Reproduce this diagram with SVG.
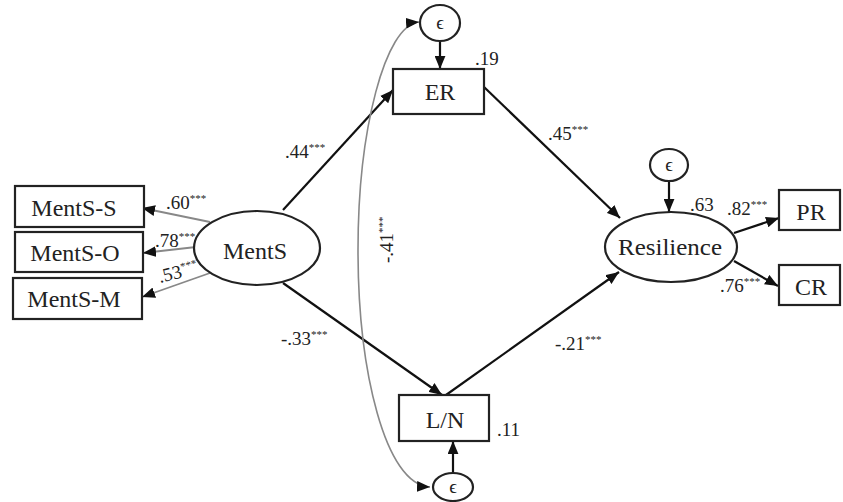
<svg xmlns="http://www.w3.org/2000/svg" width="843" height="502" viewBox="0 0 843 502">
<defs>
<style>
.box{fill:#fff;stroke:#222;stroke-width:2.2}
.ell{fill:#fff;stroke:#222;stroke-width:2.2}
text{font-family:'Liberation Serif','Times New Roman','DejaVu Serif',serif;fill:#222}
.lbl{font-size:24px;text-anchor:middle}
.co{font-size:19px}
.st{font-size:11px}
.eps{font-size:19px;text-anchor:middle}
.path{stroke:#111;stroke-width:2.2;fill:none}
.load{stroke:#888;stroke-width:1.8;fill:none}
.cov{stroke:#888;stroke-width:1.6;fill:none}
</style>
<marker id="ah" viewBox="0 0 12 10" refX="12" refY="5" markerWidth="13" markerHeight="11" markerUnits="userSpaceOnUse" orient="auto-start-reverse">
<path d="M0,0 L12,5 L0,10 Z" fill="#111"/>
</marker>
</defs>
<rect width="843" height="502" fill="#fff"/>
<g id="connectors">
<line class="load" x1="210" y1="222" x2="142" y2="208" marker-end="url(#ah)"/>
<line class="load" x1="196" y1="247" x2="143" y2="253" marker-end="url(#ah)"/>
<line class="load" x1="210" y1="273" x2="142" y2="297" marker-end="url(#ah)"/>
<line class="path" x1="283" y1="210" x2="393" y2="90" marker-end="url(#ah)"/>
<line class="path" x1="283" y1="283" x2="442" y2="395" marker-end="url(#ah)"/>
<line class="path" x1="484" y1="87" x2="620" y2="218" marker-end="url(#ah)"/>
<line class="path" x1="446" y1="395" x2="619" y2="272" marker-end="url(#ah)"/>
<line class="path" x1="440" y1="41" x2="440" y2="69" marker-end="url(#ah)"/>
<line class="path" x1="453" y1="473" x2="453" y2="441" marker-end="url(#ah)"/>
<line class="path" x1="669" y1="181" x2="669" y2="212" marker-end="url(#ah)"/>
<line class="path" x1="734" y1="233" x2="779" y2="218" marker-end="url(#ah)"/>
<line class="path" x1="734" y1="261" x2="778" y2="286" marker-end="url(#ah)"/>
<path class="cov" d="M 419 22 C 385 25, 358 130, 358 250 C 358 370, 385 485, 430 487" marker-start="url(#ah)" marker-end="url(#ah)"/>
</g>
<g id="mentsS"><rect class="box" x="15" y="186" width="129" height="41"/><text class="lbl" x="74" y="216">MentS-S</text></g>
<g id="mentsO"><rect class="box" x="15" y="232" width="128" height="40"/><text class="lbl" x="75" y="261">MentS-O</text></g>
<g id="mentsM"><rect class="box" x="13" y="278" width="129" height="41"/><text class="lbl" x="74" y="307">MentS-M</text></g>
<g id="ments"><ellipse class="ell" cx="257" cy="248" rx="63" ry="37"/><text class="lbl" x="255" y="259">MentS</text></g>
<g id="er"><rect class="box" x="393" y="69" width="91" height="45"/><text class="lbl" x="440" y="100">ER</text><text class="co" x="475" y="65">.19</text></g>
<g id="eps-er"><ellipse class="ell" cx="440" cy="23" rx="20" ry="18"/><text class="eps" x="440" y="29">ϵ</text></g>
<g id="ln"><rect class="box" x="399" y="395" width="90" height="46"/><text class="lbl" x="445" y="428">L/N</text><text class="co" x="497" y="436">.11</text></g>
<g id="eps-ln"><ellipse class="ell" cx="453" cy="487" rx="20" ry="14"/><text class="eps" x="453" y="493">ϵ</text></g>
<g id="resilience"><ellipse class="ell" cx="671" cy="247" rx="66" ry="35"/><text class="lbl" x="670" y="255" textLength="104" lengthAdjust="spacingAndGlyphs">Resilience</text><text class="co" x="690" y="211">.63</text></g>
<g id="eps-res"><ellipse class="ell" cx="669" cy="165" rx="19" ry="16"/><text class="eps" x="669" y="171">ϵ</text></g>
<g id="pr"><rect class="box" x="779" y="190" width="61" height="40"/><text class="lbl" x="811" y="220">PR</text></g>
<g id="cr"><rect class="box" x="779" y="265" width="61" height="40"/><text class="lbl" x="811" y="295">CR</text></g>
<g id="labels">
<text class="co" x="166" y="209">.60<tspan class="st" dy="-7">***</tspan></text>
<text class="co" x="155" y="247">.78<tspan class="st" dy="-7">***</tspan></text>
<text class="co" transform="translate(160,283) rotate(-14)">.53<tspan class="st" dy="-7">***</tspan></text>
<text class="co" x="285" y="158">.44<tspan class="st" dy="-7">***</tspan></text>
<text class="co" x="281" y="345">-.33<tspan class="st" dy="-7">***</tspan></text>
<text class="co" transform="translate(393,263) rotate(-90)">-.41<tspan class="st" dy="-7">***</tspan></text>
<text class="co" x="548" y="140">.45<tspan class="st" dy="-7">***</tspan></text>
<text class="co" x="555" y="350">-.21<tspan class="st" dy="-7">***</tspan></text>
<text class="co" x="727" y="215">.82<tspan class="st" dy="-7">***</tspan></text>
<text class="co" x="720" y="292">.76<tspan class="st" dy="-7">***</tspan></text>
</g>
</svg>
